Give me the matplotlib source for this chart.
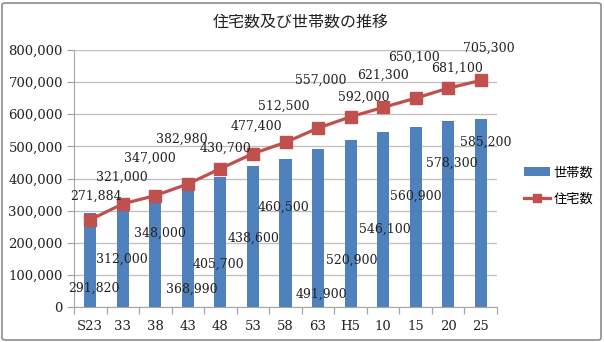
import matplotlib
matplotlib.use("Agg")
import matplotlib.pyplot as plt
from matplotlib.patches import FancyBboxPatch
from matplotlib.ticker import FuncFormatter, MultipleLocator, FixedLocator
import numpy as np

categories = ["S23", "33", "38", "43", "48", "53", "58", "63", "H5", "10", "15", "20", "25"]
households = [291820, 312000, 348000, 368990, 405700, 438600, 460500, 491900,
              520900, 546100, 560900, 578300, 585200]
houses = [271884, 321000, 347000, 382980, 430700, 477400, 512500, 557000,
          592000, 621300, 650100, 681100, 705300]
title = "住宅数及び世帯数の推移"
bar_name = "世帯数"
line_name = "住宅数"

# label placement offsets (pixels) as dragged in original chart
house_lbl_off = [(6, 23), (-1, 27), (-5, 37), (-6, 45), (5, 20), (3, 27), (-2, 36),
                 (3, 48), (13, 20), (0, 32), (-2, 41), (9, 20), (8, 32)]
hh_lbl_off = [(4, -75), (-1, -52), (5, -38), (4, -101), (-2, -88), (1, -72), (-2, -48),
              (3, -145), (1, -121), (2, -98), (0, -69), (4, -42), (5, -23)]

BLUE = "#4F81BD"
RED = "#C0504D"
serif = ["DejaVu Serif"]
jp = ["Noto Sans CJK JP", "DejaVu Sans"]

fig = plt.figure(figsize=(6.04, 3.42), dpi=100)
ax = fig.add_axes([74 / 604, 1 - 307 / 342, 423 / 604, 257 / 342])

x = np.arange(len(categories))
bars = ax.bar(x, households, width=0.37, color=BLUE, zorder=2, label=bar_name)
line, = ax.plot(x, houses, color=RED, lw=2.3, marker="s", ms=8.5, zorder=3, label=line_name)

for i, v in enumerate(houses):
    ax.annotate(f"{v:,}", (x[i], v), xytext=house_lbl_off[i], textcoords="offset pixels",
                ha="center", va="center", fontsize=9, family=serif, color="#222222", zorder=5)
for i, v in enumerate(households):
    ax.annotate(f"{v:,}", (x[i], v), xytext=hh_lbl_off[i], textcoords="offset pixels",
                ha="center", va="center", fontsize=9, family=serif, color="#222222", zorder=5)

ax.set_xlim(-0.5, len(categories) - 0.5)
ax.set_ylim(0, 800000)
ax.yaxis.set_major_locator(MultipleLocator(100000))
ax.yaxis.set_major_formatter(FuncFormatter(lambda v, p: f"{int(v):,}"))
ax.grid(axis="y", color="#BFBFBF", lw=0.9, zorder=0)
ax.set_axisbelow(True)
ax.set_xticks(x)
ax.set_xticklabels(categories)
ax.xaxis.set_minor_locator(FixedLocator(np.arange(-0.5, len(categories), 1.0)))
ax.tick_params(axis="x", which="major", length=0, pad=9)
ax.tick_params(axis="x", which="minor", length=5, color="#A6A6A6", width=0.9)
ax.tick_params(axis="y", length=5, color="#A6A6A6", width=0.9, pad=3)
for lbl in ax.get_xticklabels() + ax.get_yticklabels():
    lbl.set_family(serif)
    lbl.set_fontsize(9.5)
    lbl.set_color("#222222")
for s in ["top", "right"]:
    ax.spines[s].set_visible(False)
ax.spines["left"].set_color("#A6A6A6")
ax.spines["bottom"].set_color("#A6A6A6")

fig.text(301 / 604, 1 - 22 / 342, title, ha="center", va="center", fontsize=11.5,
         family=jp, color="#222222")

leg = fig.legend([bars, line], [bar_name, line_name], loc="center left",
                 bbox_to_anchor=(517 / 604, 1 - 186 / 342), frameon=False,
                 prop={"family": jp, "size": 9.5}, handlelength=2.0, handletextpad=0.25,
                 labelspacing=1.0, borderpad=0, markerscale=0.7)

border = FancyBboxPatch((2 / 604, 2 / 342), 599 / 604, 337 / 342,
                        boxstyle="round,pad=0,rounding_size=0.006", transform=fig.transFigure,
                        fill=False, edgecolor="#8C8C8C", lw=1.2)
fig.patches.append(border)

fig.savefig("out.png", dpi=100)
